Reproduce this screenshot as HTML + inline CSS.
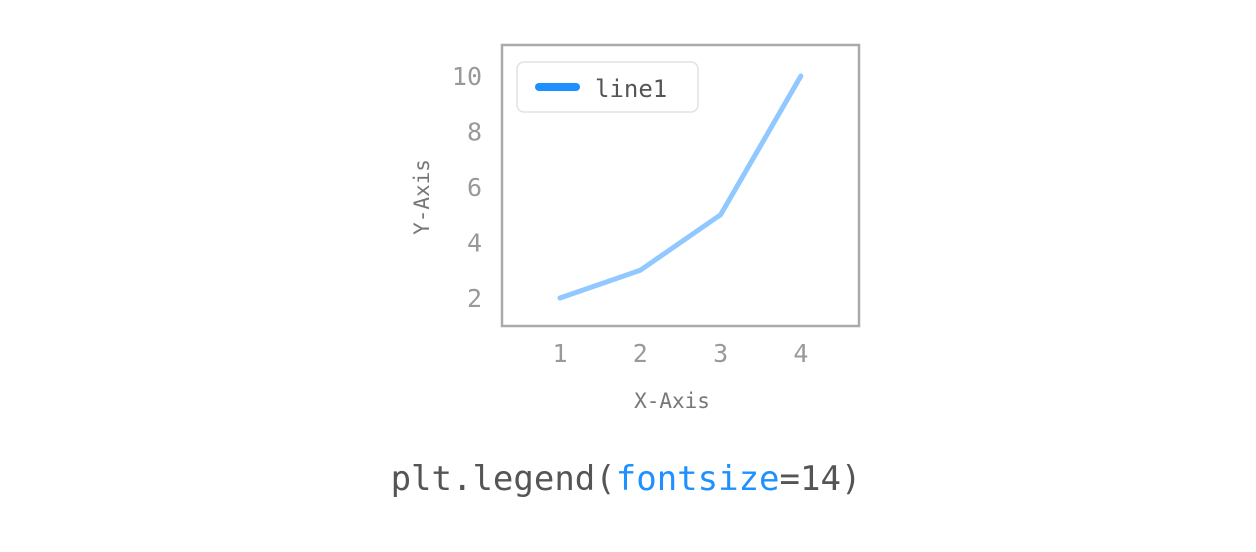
<!DOCTYPE html>
<html><head><meta charset="utf-8"><style>
body{margin:0;background:#fff;width:1256px;height:548px;overflow:hidden;font-family:"DejaVu Sans Mono","Liberation Mono",monospace}
</style></head><body>
<svg width="1256" height="548" id="svg">
<rect x="502" y="45" width="357" height="281" fill="none" stroke="#aaa" stroke-width="2.5"/>
<g id="ticks"></g>
<polyline id="line" fill="none" stroke="#90c8ff" stroke-width="5" stroke-linejoin="round" stroke-linecap="round"/>
<g>
<rect x="517" y="62" width="181" height="50" rx="7" fill="#fff" stroke="#e2e2e2" stroke-width="1.5"/>
<line x1="539" y1="87" x2="576" y2="87" stroke="#1e90ff" stroke-width="8" stroke-linecap="round"/>
<text x="595" y="97" font-size="24" fill="#555">line1</text>
</g>
<text x="672" y="408" font-size="21" fill="#777" text-anchor="middle">X-Axis</text>
<text x="0" y="0" transform="translate(429,197) rotate(-90)" font-size="21" fill="#777" text-anchor="middle">Y-Axis</text>
<text x="626" y="490" font-size="34" fill="#555" text-anchor="middle">plt.legend(<tspan fill="#1e90ff">fontsize</tspan>=14)</text>
</svg>
<script>
const xs=[1,2,3,4];
const ys=[2,3,5,10];
const xTicks=[1,2,3,4];
const yTicks=[2,4,6,8,10];
function sx(v){return 560+(v-1)*80.3;}
function sy(v){return 298-(v-2)*27.75;}
const NS="http://www.w3.org/2000/svg";
const line=document.getElementById('line');
line.setAttribute('points',xs.map((x,i)=>sx(x)+','+sy(ys[i])).join(' '));
const g=document.getElementById('ticks');
xTicks.forEach(t=>{const e=document.createElementNS(NS,'text');


e.setAttribute('x',sx(t));e.setAttribute('y',362);e.setAttribute('font-size','25');e.setAttribute('fill','#999');e.setAttribute('text-anchor','middle');e.textContent=t;g.appendChild(e);});
yTicks.forEach(t=>{const e=document.createElementNS(NS,'text');


e.setAttribute('x',482);e.setAttribute('y',sy(t)+9);e.setAttribute('font-size','25');e.setAttribute('fill','#999');e.setAttribute('text-anchor','end');e.textContent=t;g.appendChild(e);});
</script>
</body></html>
